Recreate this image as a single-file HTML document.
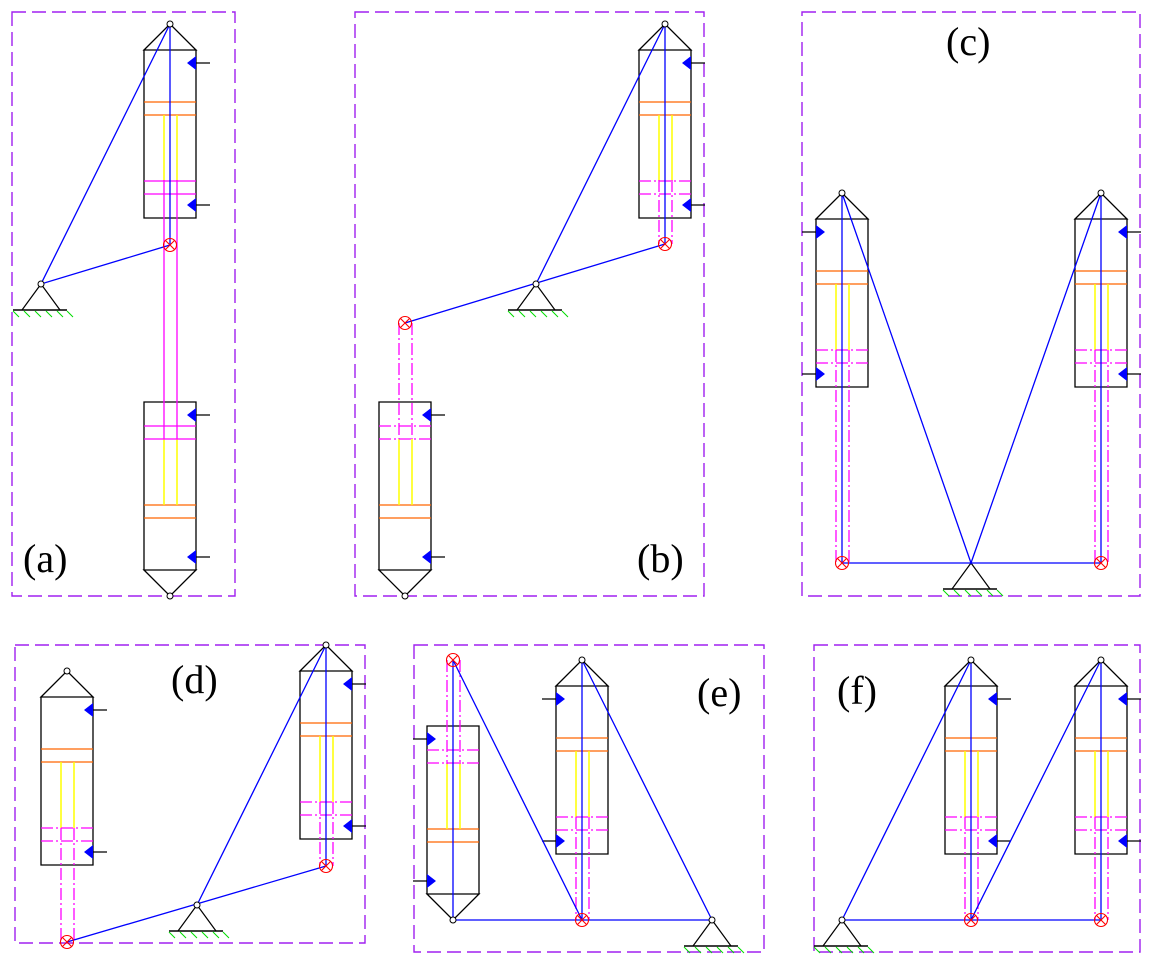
<!DOCTYPE html>
<html><head><meta charset="utf-8"><style>
html,body{margin:0;padding:0;background:#fff}
svg{display:block}
</style></head><body>
<svg width="1153" height="967" viewBox="0 0 1153 967" xmlns="http://www.w3.org/2000/svg">
<defs>
<g id="cyl" fill="none">
 <path d="M-26,26 L0,0 L26,26 Z M-26,26 H26 V194 H-26 Z" stroke="#000" stroke-width="1.3"/>
 <line x1="-26" y1="78" x2="26" y2="78" stroke="#ff6600" stroke-width="1.3"/>
 <line x1="-26" y1="91" x2="26" y2="91" stroke="#ff6600" stroke-width="1.3"/>
 <line x1="-6" y1="91" x2="-6" y2="157" stroke="#ffff00" stroke-width="1.5"/>
 <line x1="7" y1="91" x2="7" y2="157" stroke="#ffff00" stroke-width="1.5"/>
</g>
<g id="mS" stroke="#ff00ff" stroke-width="1.3">
 <line x1="-26" y1="157" x2="26" y2="157"/><line x1="-26" y1="170" x2="26" y2="170"/>
</g>
<g id="mD" stroke="#ff00ff" stroke-width="1.3" stroke-dasharray="12,3,2,3">
 <line x1="-26" y1="157" x2="26" y2="157"/><line x1="-26" y1="170" x2="26" y2="170"/>
</g>
<g id="aR">
 <path d="M26,32 L26,46 L17,39 Z M26,174 L26,188 L17,181 Z" fill="#0000ff"/>
 <path d="M26,39 H40 M26,181 H40" stroke="#000" stroke-width="1.3"/>
</g>
<g id="aL">
 <path d="M-26,32 L-26,46 L-17,39 Z M-26,174 L-26,188 L-17,181 Z" fill="#0000ff"/>
 <path d="M-26,39 H-40 M-26,181 H-40" stroke="#000" stroke-width="1.3"/>
</g>
<g id="rc" fill="none" stroke="#ff0000" stroke-width="1.1">
 <circle r="6.5"/><path d="M-4.5,-4.5 L4.5,4.5 M-4.5,4.5 L4.5,-4.5"/>
</g>
<circle id="pin" r="3" fill="#fff" stroke="#000" stroke-width="1"/>
<g id="piv">
 <path d="M0,0 L-19,26 M0,0 L19,26" stroke="#000" stroke-width="1.2" fill="none"/>
 <line x1="-28" y1="26" x2="26" y2="26" stroke="#000" stroke-width="1.5"/>
 <path d="M-28,27 l6,6 M-17,27 l6,6 M-6,27 l6,6 M5,27 l6,6 M16,27 l6,6 M26,27 l6,6" stroke="#00dd00" stroke-width="1"/>
</g>
</defs>

<g fill="none" stroke="#a020f0" stroke-width="1.4" stroke-dasharray="14,6">
 <rect x="12" y="12" width="223" height="584"/>
 <rect x="355" y="12" width="349" height="584"/>
 <rect x="802" y="12" width="338" height="584"/>
 <rect x="15" y="645" width="350" height="298"/>
 <rect x="414" y="645" width="350" height="307"/>
 <rect x="814" y="645" width="326" height="307"/>
</g>

<g font-family="Liberation Serif, serif" font-size="40" fill="#000">
<text x="23" y="572">(a)</text>
<text x="637" y="572">(b)</text>
<text x="946" y="55">(c)</text>
<text x="171" y="693">(d)</text>
<text x="697" y="706">(e)</text>
<text x="837" y="704">(f)</text>
</g>

<!-- (a) -->
<use href="#cyl" x="170" y="24"/><use href="#mS" x="170" y="24"/><use href="#aR" x="170" y="24"/>
<g transform="translate(170,596) scale(1,-1)"><use href="#cyl"/><use href="#mS"/><use href="#aR"/></g>
<path d="M164,180 V439 M177,180 V439" stroke="#ff00ff" stroke-width="1.3"/>
<use href="#piv" x="41" y="284"/>
<path d="M170,24 V245 M170,24 L41,284 L170,245" stroke="#0000ff" stroke-width="1.3" fill="none"/>
<use href="#rc" x="170" y="245"/><use href="#pin" x="170" y="24"/><use href="#pin" x="41" y="284"/><use href="#pin" x="170" y="596"/>

<!-- (b) -->
<use href="#cyl" x="665" y="24"/><use href="#mD" x="665" y="24"/><use href="#aR" x="665" y="24"/>
<g transform="translate(405,596) scale(1,-1)"><use href="#cyl"/><use href="#mD"/><use href="#aR"/></g>
<path d="M659,180 V244 M672,180 V244 M399,323 V439 M412,323 V439" stroke="#ff00ff" stroke-width="1.3" stroke-dasharray="12,3,2,3"/>
<use href="#piv" x="536" y="284"/>
<path d="M665,24 V244 M665,24 L536,284 M665,244 L405,323" stroke="#0000ff" stroke-width="1.3" fill="none"/>
<use href="#rc" x="665" y="244"/><use href="#rc" x="405" y="323"/>
<use href="#pin" x="665" y="24"/><use href="#pin" x="536" y="284"/><use href="#pin" x="405" y="596"/>

<!-- (c) -->
<use href="#cyl" x="842" y="193"/><use href="#mD" x="842" y="193"/><use href="#aL" x="842" y="193"/>
<use href="#cyl" x="1101" y="193"/><use href="#mD" x="1101" y="193"/><use href="#aR" x="1101" y="193"/>
<path d="M836,350 V563 M849,350 V563 M1095,350 V563 M1108,350 V563" stroke="#ff00ff" stroke-width="1.3" stroke-dasharray="12,3,2,3"/>
<use href="#piv" x="971" y="563"/>
<path d="M842,193 V563 M1101,193 V563 M842,563 H1101 M842,193 L971,563 L1101,193" stroke="#0000ff" stroke-width="1.3" fill="none"/>
<use href="#rc" x="842" y="563"/><use href="#rc" x="1101" y="563"/>
<use href="#pin" x="842" y="193"/><use href="#pin" x="1101" y="193"/>

<!-- (d) -->
<use href="#cyl" x="67" y="671"/><use href="#mD" x="67" y="671"/><use href="#aR" x="67" y="671"/>
<use href="#cyl" x="326" y="645"/><use href="#mD" x="326" y="645"/><use href="#aR" x="326" y="645"/>
<path d="M61,828 V942 M74,828 V942 M320,802 V866 M333,802 V866" stroke="#ff00ff" stroke-width="1.3" stroke-dasharray="12,3,2,3"/>
<use href="#piv" x="197" y="905"/>
<path d="M326,645 V866 M326,645 L197,905 M67,942 L326,866" stroke="#0000ff" stroke-width="1.3" fill="none"/>
<use href="#rc" x="67" y="942"/><use href="#rc" x="326" y="866"/>
<use href="#pin" x="67" y="671"/><use href="#pin" x="326" y="645"/><use href="#pin" x="197" y="905"/>

<!-- (e) -->
<g transform="translate(453,920) scale(1,-1)"><use href="#cyl"/><use href="#mD"/><use href="#aL"/></g>
<use href="#cyl" x="582" y="660"/><use href="#mD" x="582" y="660"/><use href="#aL" x="582" y="660"/>
<path d="M447,660 V764 M460,660 V764 M576,817 V920 M589,817 V920" stroke="#ff00ff" stroke-width="1.3" stroke-dasharray="12,3,2,3"/>
<use href="#piv" x="712" y="920"/>
<path d="M453,660 V920 M582,660 V920 M453,920 H712 M453,660 L582,920 M582,660 L712,920" stroke="#0000ff" stroke-width="1.3" fill="none"/>
<use href="#rc" x="453" y="660"/><use href="#rc" x="582" y="920"/>
<use href="#pin" x="453" y="920"/><use href="#pin" x="582" y="660"/><use href="#pin" x="712" y="920"/>

<!-- (f) -->
<use href="#cyl" x="971" y="660"/><use href="#mD" x="971" y="660"/><use href="#aR" x="971" y="660"/>
<use href="#cyl" x="1101" y="660"/><use href="#mD" x="1101" y="660"/><use href="#aR" x="1101" y="660"/>
<path d="M965,817 V920 M978,817 V920 M1095,817 V920 M1108,817 V920" stroke="#ff00ff" stroke-width="1.3" stroke-dasharray="12,3,2,3"/>
<use href="#piv" x="842" y="920"/>
<path d="M971,660 V920 M1101,660 V920 M842,920 H1101 M971,660 L842,920 M1101,660 L971,920" stroke="#0000ff" stroke-width="1.3" fill="none"/>
<use href="#rc" x="971" y="920"/><use href="#rc" x="1101" y="920"/>
<use href="#pin" x="971" y="660"/><use href="#pin" x="1101" y="660"/><use href="#pin" x="842" y="920"/>
</svg>
</body></html>
